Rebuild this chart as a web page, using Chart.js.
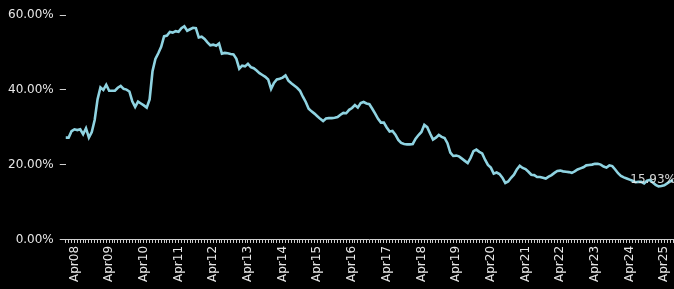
<!DOCTYPE html>
<html>
<head>
<meta charset="utf-8">
<script src="https://cdn.jsdelivr.net/npm/chart.js@4/dist/chart.umd.min.js"></script>
<style>
  body { margin: 0; background: #000; }
  canvas { display: block; }
</style>
</head>
<body>
<canvas id="lineChart" width="674" height="289"></canvas>
<script>
// monthly series, Jan 2008 .. Jul 2025 (percent)
var startYear = 2008;
var startMonth = 0;
var shareValues = [
    27.3, 27.3, 29.0, 29.5, 29.3, 29.5, 28.2, 29.8, 27.3, 28.8, 32.0, 37.5,
    40.7, 40.0, 41.4, 39.8, 39.8, 39.8, 40.6, 41.1, 40.3, 40.1, 39.6, 37.0,
    35.5, 36.9, 36.4, 35.9, 35.3, 37.5, 45.0, 48.3, 49.8, 51.5, 54.3, 54.5,
    55.5, 55.3, 55.7, 55.5, 56.5, 57.0, 55.8, 56.2, 56.6, 56.5, 54.0, 54.2,
    53.6, 52.7, 51.9, 52.1, 51.8, 52.4, 49.7, 49.9, 49.8, 49.6, 49.5, 48.3,
    45.7, 46.5, 46.3, 47.0, 46.1, 45.8, 45.2, 44.5, 44.0, 43.5, 42.8, 40.3,
    41.9, 42.8, 43.0, 43.3, 43.9, 42.5, 41.8, 41.2, 40.6, 39.8, 38.2, 36.8,
    35.0, 34.3, 33.7, 33.0, 32.3, 31.7, 32.4, 32.5, 32.5, 32.6, 32.8, 33.4,
    33.9, 33.8, 34.7, 35.2, 36.0, 35.3, 36.5, 36.8, 36.4, 36.2, 35.0, 33.7,
    32.3, 31.3, 31.3, 30.0, 28.9, 29.1, 28.1, 26.7, 25.9, 25.6, 25.5, 25.5,
    25.6, 27.0, 28.0, 28.8, 30.7, 30.1, 28.4, 26.8, 27.3, 28.0, 27.5, 27.2,
    25.8, 23.3, 22.4, 22.5, 22.3, 21.7, 21.1, 20.5, 21.9, 23.7, 24.1, 23.5,
    23.1, 21.4, 20.0, 19.3, 17.7, 18.0, 17.6, 16.6, 15.2, 15.6, 16.6, 17.4,
    18.8, 19.8, 19.2, 18.9, 18.2, 17.4, 17.3, 16.8, 16.8, 16.6, 16.4, 16.9,
    17.3, 17.9, 18.4, 18.5, 18.3, 18.2, 18.1, 17.9, 18.3, 18.8, 19.1, 19.4,
    19.9, 20.0, 20.1, 20.3, 20.3, 20.1, 19.6, 19.3, 19.9, 19.7, 18.8, 17.8,
    17.1, 16.7, 16.4, 16.1, 15.8, 15.4, 15.5, 15.5, 15.1, 15.8, 16.0, 15.3,
    14.7, 14.3, 14.4, 14.6, 15.1, 15.6, 15.93
];
var tickLabels = ["Apr08", "Apr09", "Apr10", "Apr11", "Apr12", "Apr13", "Apr14", "Apr15", "Apr16",
    "Apr17", "Apr18", "Apr19", "Apr20", "Apr21", "Apr22", "Apr23", "Apr24", "Apr25"];
var yTicks = [0, 20, 40, 60];

var monthNames = ["Jan", "Feb", "Mar", "Apr", "May", "Jun", "Jul", "Aug", "Sep", "Oct", "Nov", "Dec"];
var months = [];
for (var i = 0; i < shareValues.length; i++) {
    var m = (startMonth + i) % 12;
    var y = startYear + Math.floor((startMonth + i) / 12);
    months.push(monthNames[m] + String(y).slice(2));
}

var textColor = "#e6e6e6";

// label on the last point
var lastLabel = {
    id: "lastLabel",
    afterDatasetsDraw: function (chart) {
        var meta = chart.getDatasetMeta(0);
        var pt = meta.data[meta.data.length - 1];
        var ctx = chart.ctx;
        ctx.save();
        ctx.font = "12px 'DejaVu Sans'";
        ctx.fillStyle = "rgba(235,235,235,0.9)";
        ctx.textAlign = "right";
        ctx.textBaseline = "middle";
        ctx.fillText(shareValues[shareValues.length - 1].toFixed(2) + "%", pt.x + 3, pt.y);
        ctx.restore();
    }
};

var linChart = new Chart(document.getElementById("lineChart"), {
    type: "line",
    data: {
        labels: months,
        datasets: [{
            data: shareValues,
            borderColor: "#8fd3e1",
            borderWidth: 2.6,
            pointRadius: 0,
            tension: 0,
            fill: false
        }]
    },
    options: {
        responsive: false,
        animation: false,
        layout: { padding: { left: 2, right: 1, top: 15, bottom: 4 } },
        plugins: { legend: { display: false }, tooltip: { enabled: false } },
        scales: {
            x: {
                offset: false,
                border: { display: true, color: "#cfcfcf", width: 1 },
                grid: { drawOnChartArea: false, tickLength: 3, color: "#cfcfcf" },
                afterFit: function (scale) {
                    scale.paddingLeft = 0;
                    scale.paddingRight = 0;
                },
                ticks: {
                    autoSkip: false,
                    minRotation: 90,
                    maxRotation: 90,
                    padding: 3,
                    color: textColor,
                    font: { family: "DejaVu Sans", size: 12 },
                    callback: function (val, idx) {
                        var lab = months[idx];
                        return tickLabels.indexOf(lab) >= 0 ? lab : "";
                    }
                }
            },
            y: {
                min: 0,
                max: 60,
                border: { display: false },
                grid: { drawOnChartArea: false, tickLength: 6, color: "#cfcfcf" },
                afterBuildTicks: function (axis) {
                    axis.ticks = yTicks.map(function (v) { return { value: v }; });
                },
                ticks: {
                    padding: 6,
                    color: textColor,
                    font: { family: "DejaVu Sans", size: 12 },
                    callback: function (v) { return v.toFixed(2) + "%"; }
                }
            }
        }
    },
    plugins: [lastLabel]
});
</script>
</body>
</html>
